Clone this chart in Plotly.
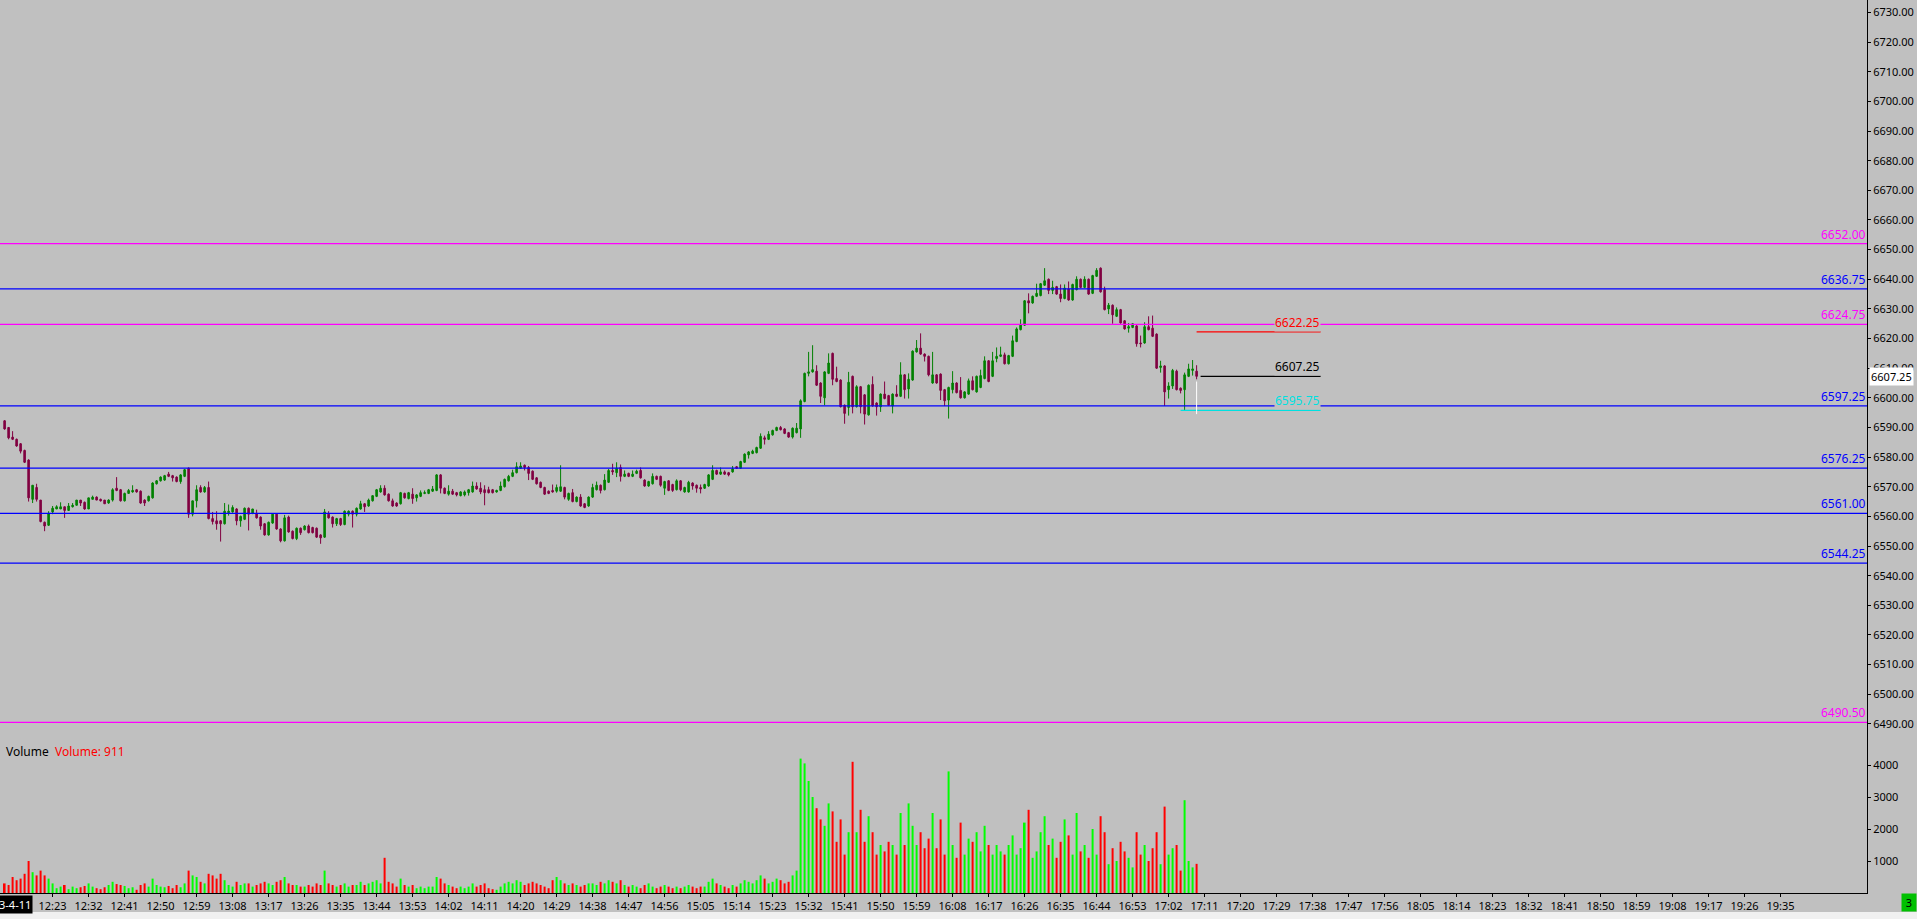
import plotly.graph_objects as go
from datetime import datetime, timedelta

SESSION_START = datetime(2023, 4, 11, 12, 11)

opens = [6592.25,6590.0,6586.75,6586.0,6584.5,6582.25,6579.0,6565.75,6569.75,6565.5,
6558.0,6557.0,6561.5,6562.5,6562.5,6563.25,6562.0,6563.25,6563.75,6565.5,
6564.75,6562.5,6565.75,6566.5,6565.75,6565.5,6564.5,6565.5,6569.5,6569.0,
6565.25,6567.75,6568.25,6569.0,6568.5,6565.5,6565.25,6566.25,6571.0,6572.0,
6572.25,6574.25,6573.75,6573.25,6571.75,6573.5,6576.25,6560.75,6565.25,6569.75,
6568.25,6569.75,6559.25,6558.5,6558.5,6557.5,6561.25,6561.5,6562.5,6558.5,
6559.0,6562.75,6561.0,6561.0,6559.75,6557.5,6553.75,6557.75,6560.75,6555.75,
6551.75,6559.75,6555.0,6552.5,6556.0,6555.5,6556.75,6556.25,6556.0,6553.75,
6553.0,6560.75,6559.75,6557.5,6559.25,6557.25,6560.75,6561.75,6560.75,6562.5,
6564.25,6563.5,6565.25,6566.75,6568.25,6569.5,6567.5,6565.25,6564.5,6564.25,
6567.75,6566.0,6567.5,6566.25,6566.75,6567.75,6567.75,6568.5,6568.75,6574.0,
6569.5,6567.5,6568.5,6568.0,6567.0,6567.25,6568.0,6568.25,6570.25,6569.5,
6569.0,6569.0,6569.0,6568.25,6568.75,6570.0,6572.0,6573.5,6574.75,6576.25,
6577.25,6576.5,6575.25,6573.0,6571.5,6569.75,6568.5,6568.75,6568.5,6568.5,
6569.75,6565.75,6568.0,6565.0,6566.5,6564.25,6563.5,6566.5,6569.0,6570.5,
6569.0,6571.5,6575.5,6574.75,6576.5,6573.5,6574.5,6573.5,6574.5,6575.5,
6572.25,6570.25,6571.0,6573.5,6573.5,6569.5,6572.0,6570.75,6569.0,6572.0,
6568.25,6568.25,6571.25,6570.5,6569.75,6569.5,6570.25,6572.5,6575.5,6574.25,
6575.0,6574.75,6575.0,6576.75,6576.25,6578.25,6580.75,6581.25,6581.5,6583.0,
6586.5,6586.0,6587.5,6589.0,6590.0,6589.5,6588.25,6586.75,6588.25,6589.5,
6598.75,6608.25,6608.75,6609.0,6605.0,6600.0,6608.25,6615.0,6606.5,6606.0,
6597.5,6596.75,6607.25,6597.0,6603.75,6601.0,6594.25,6604.5,6598.25,6597.0,
6601.25,6600.75,6597.25,6601.25,6600.5,6607.75,6603.0,6606.0,6615.5,6616.75,
6614.75,6614.0,6605.0,6607.75,6608.0,6602.75,6599.25,6602.75,6605.0,6602.5,
6600.0,6601.25,6605.75,6602.0,6603.5,6606.5,6612.5,6607.25,6613.25,6614.0,
6614.5,6611.5,6614.0,6619.0,6623.0,6624.5,6632.75,6632.0,6634.25,6634.5,
6638.0,6640.0,6636.25,6637.5,6635.0,6633.5,6636.75,6633.0,6636.5,6640.0,
6637.25,6640.0,6635.25,6641.0,6643.75,6636.5,6630.0,6631.25,6627.5,6629.75,
6626.0,6623.5,6623.75,6624.25,6618.5,6618.5,6624.0,6623.5,6621.5,6610.25,
6610.75,6602.75,6604.0,6609.0,6603.25,6602.75,6607.25,6609.25,6609.0]

highs = [6592.5,6590.0,6588.75,6586.25,6584.75,6582.5,6579.25,6570.5,6571.0,6565.5,
6558.25,6561.75,6563.5,6563.75,6564.75,6563.25,6564.5,6564.5,6565.5,6565.5,
6565.0,6566.25,6567.0,6566.75,6566.0,6565.5,6565.75,6569.5,6573.25,6569.25,
6568.0,6569.25,6570.5,6569.25,6568.75,6565.75,6567.0,6571.5,6572.25,6573.5,
6574.0,6575.0,6574.0,6573.5,6574.25,6576.0,6576.5,6565.25,6570.5,6570.5,
6570.25,6571.75,6561.5,6561.75,6558.75,6564.5,6564.0,6563.75,6562.75,6560.25,
6563.0,6563.0,6562.5,6562.25,6560.0,6557.75,6558.25,6561.0,6561.0,6556.0,
6560.5,6560.25,6555.25,6556.25,6556.25,6557.0,6557.25,6556.5,6556.25,6554.0,
6562.5,6561.75,6560.0,6559.5,6559.5,6562.0,6562.0,6562.0,6563.0,6565.25,
6564.5,6566.0,6567.0,6569.25,6570.5,6570.5,6567.75,6566.0,6564.75,6568.25,
6568.0,6568.25,6569.5,6567.5,6568.75,6568.75,6569.25,6570.25,6574.25,6574.25,
6569.75,6570.5,6569.25,6568.25,6568.5,6568.75,6569.25,6571.75,6571.5,6571.5,
6570.5,6570.0,6569.25,6569.0,6571.75,6572.75,6574.0,6575.75,6578.25,6578.25,
6577.5,6577.0,6575.5,6573.25,6571.75,6570.0,6568.75,6570.75,6570.75,6577.25,
6570.0,6568.0,6569.25,6566.75,6567.5,6564.5,6566.75,6571.0,6571.75,6570.75,
6574.25,6576.0,6577.75,6578.25,6577.5,6575.5,6574.75,6575.5,6575.75,6576.5,
6572.5,6572.0,6574.5,6573.75,6573.75,6572.0,6572.25,6571.0,6572.5,6572.25,
6570.0,6572.0,6571.5,6570.75,6570.75,6571.0,6574.25,6577.25,6575.75,6576.5,
6575.5,6575.0,6577.0,6577.0,6578.75,6581.25,6582.0,6582.5,6583.5,6588.0,
6587.25,6588.75,6589.25,6590.25,6590.5,6589.75,6588.5,6590.0,6591.5,6599.5,
6608.5,6615.5,6617.75,6611.0,6605.25,6609.0,6615.0,6615.25,6610.5,6606.25,
6597.75,6608.75,6607.5,6604.25,6604.0,6601.25,6604.5,6607.25,6598.5,6601.5,
6605.5,6601.0,6601.5,6604.25,6612.0,6608.0,6608.25,6616.0,6619.5,6621.75,
6615.0,6614.25,6615.5,6608.0,6608.25,6603.0,6603.75,6609.0,6605.25,6607.0,
6602.25,6606.5,6607.25,6607.5,6609.5,6614.0,6612.75,6615.5,6617.0,6617.25,
6615.25,6614.5,6621.0,6623.75,6626.5,6633.0,6635.25,6634.5,6638.5,6638.75,
6643.75,6640.25,6639.5,6637.75,6638.25,6638.25,6639.25,6638.5,6641.0,6640.25,
6641.0,6640.25,6641.5,6643.75,6644.0,6637.5,6632.0,6631.5,6630.5,6630.0,
6626.25,6625.25,6625.25,6624.5,6621.0,6625.5,6627.5,6627.75,6621.75,6612.5,
6611.0,6605.25,6609.75,6609.5,6603.5,6608.5,6611.5,6612.75,6611.0]

lows = [6589.25,6586.0,6585.75,6583.5,6581.25,6578.0,6565.0,6564.5,6565.0,6558.0,
6555.0,6556.75,6560.75,6562.5,6562.5,6559.5,6562.0,6563.0,6563.75,6563.5,
6562.25,6562.5,6565.75,6565.5,6565.0,6564.25,6564.25,6565.0,6568.5,6565.0,
6565.0,6567.75,6568.0,6568.0,6564.25,6563.5,6565.0,6566.0,6570.75,6571.75,
6572.0,6573.25,6571.75,6571.5,6571.0,6573.25,6559.5,6560.0,6563.0,6568.0,
6568.0,6559.0,6557.25,6555.5,6551.5,6557.25,6560.25,6561.25,6557.0,6556.5,
6558.75,6555.25,6560.75,6559.25,6555.5,6553.5,6553.5,6557.5,6555.5,6551.25,
6551.5,6554.5,6552.25,6552.0,6553.75,6555.25,6554.25,6554.25,6552.75,6550.75,
6552.75,6559.25,6556.25,6556.75,6556.75,6557.0,6560.0,6556.25,6560.0,6562.25,
6561.5,6563.25,6565.0,6566.5,6568.0,6567.0,6565.0,6563.25,6563.25,6564.0,
6566.0,6565.75,6564.25,6565.0,6566.5,6567.5,6567.5,6568.25,6568.5,6567.75,
6567.5,6567.0,6567.25,6566.75,6566.75,6566.75,6567.0,6568.0,6569.0,6567.5,
6563.75,6567.75,6567.75,6568.0,6568.5,6569.75,6571.75,6573.25,6574.5,6576.0,
6575.5,6572.25,6572.25,6570.75,6569.5,6567.25,6567.5,6568.0,6568.0,6568.25,
6565.75,6565.25,6564.75,6564.75,6563.25,6562.75,6563.25,6566.25,6568.75,6567.75,
6568.75,6571.25,6574.0,6573.25,6571.75,6573.25,6573.25,6573.25,6574.25,6572.75,
6570.0,6570.0,6570.75,6572.25,6570.0,6567.25,6568.5,6568.25,6568.75,6568.5,
6568.0,6568.0,6569.0,6568.0,6567.75,6569.25,6570.0,6572.25,6574.0,6574.0,
6574.0,6573.5,6574.75,6576.0,6576.0,6578.0,6579.5,6581.0,6581.25,6582.75,
6584.25,6585.75,6587.25,6588.75,6589.0,6587.75,6586.5,6586.25,6588.0,6586.5,
6598.5,6607.25,6608.5,6604.0,6598.25,6597.5,6608.0,6604.25,6605.25,6596.75,
6591.25,6594.0,6594.75,6596.75,6594.75,6591.0,6594.0,6597.0,6594.0,6595.25,
6599.5,6597.25,6594.75,6600.25,6600.25,6599.75,6599.75,6605.75,6615.25,6614.5,
6612.25,6607.25,6604.75,6604.75,6599.25,6597.25,6593.0,6601.5,6601.5,6599.75,
6599.75,6601.0,6602.5,6601.75,6603.25,6606.25,6605.25,6607.0,6612.0,6613.75,
6611.25,6611.25,6613.75,6618.75,6622.75,6624.25,6628.5,6631.75,6634.0,6634.25,
6637.75,6635.0,6635.0,6634.75,6632.25,6633.25,6632.75,6632.75,6636.25,6637.0,
6637.0,6634.75,6635.0,6640.75,6635.5,6629.5,6628.25,6625.0,6627.25,6625.0,
6623.0,6622.0,6623.5,6617.25,6617.0,6618.25,6622.75,6620.5,6609.75,6608.5,
6597.25,6599.75,6603.0,6602.5,6601.5,6595.75,6607.0,6607.5,6606.25]

closes = [6589.5,6586.5,6586.0,6583.75,6582.0,6578.25,6566.25,6570.5,6565.75,6558.25,
6556.75,6561.0,6562.75,6563.25,6563.25,6562.0,6563.5,6563.75,6565.5,6564.5,
6562.5,6566.25,6566.5,6565.5,6565.25,6564.25,6565.5,6569.0,6568.75,6565.25,
6567.75,6568.75,6568.75,6568.25,6564.5,6564.5,6566.75,6571.25,6572.0,6573.25,
6573.75,6573.5,6573.0,6571.75,6574.0,6575.75,6560.75,6565.25,6569.0,6568.25,
6569.75,6559.25,6558.25,6557.5,6557.5,6561.75,6561.75,6563.0,6558.5,6560.0,
6562.75,6560.75,6562.5,6559.5,6556.75,6553.75,6558.0,6560.75,6555.75,6551.75,
6559.5,6554.75,6552.5,6556.0,6554.5,6556.75,6554.5,6554.5,6553.0,6552.75,
6561.5,6559.5,6557.5,6559.25,6557.25,6561.75,6561.75,6560.75,6562.75,6564.25,
6563.25,6565.5,6567.0,6569.0,6569.5,6567.25,6565.25,6563.5,6563.5,6568.0,
6566.25,6568.0,6566.0,6567.25,6568.0,6568.0,6569.0,6569.25,6574.0,6569.5,
6567.75,6568.5,6567.5,6567.25,6568.25,6568.25,6569.0,6570.25,6569.25,6568.25,
6568.0,6568.0,6568.0,6568.75,6570.25,6572.5,6573.5,6574.75,6576.75,6577.0,
6576.5,6574.5,6572.5,6571.0,6569.75,6567.5,6567.75,6568.25,6569.75,6570.0,
6566.5,6567.75,6565.0,6566.5,6563.5,6563.0,6566.5,6569.75,6570.5,6568.75,
6572.25,6575.5,6575.0,6576.25,6573.5,6574.25,6573.5,6574.25,6575.25,6573.0,
6570.25,6571.75,6573.5,6572.5,6570.5,6571.75,6568.75,6568.75,6572.0,6569.0,
6569.75,6571.5,6570.25,6569.5,6569.25,6570.75,6574.0,6575.5,6574.25,6575.0,
6574.25,6574.0,6576.0,6576.25,6578.5,6581.0,6581.75,6582.0,6583.25,6587.0,
6586.0,6587.75,6589.0,6590.0,6589.25,6588.0,6586.75,6589.75,6589.75,6599.0,
6608.25,6608.75,6609.5,6604.25,6600.5,6608.75,6611.75,6606.25,6605.5,6597.0,
6594.75,6605.25,6597.0,6603.75,6597.0,6594.5,6604.25,6597.25,6597.0,6601.25,
6599.75,6597.5,6601.25,6600.5,6607.75,6602.75,6606.25,6615.75,6616.75,6614.75,
6614.0,6607.75,6607.75,6605.0,6602.5,6599.0,6603.5,6605.0,6601.75,6600.0,
6602.0,6605.75,6602.75,6607.25,6607.5,6612.5,6605.5,6612.5,6614.0,6614.5,
6611.5,6614.25,6619.25,6623.25,6624.5,6632.75,6632.0,6634.25,6635.25,6638.5,
6639.5,6636.25,6637.25,6635.0,6633.5,6637.0,6633.0,6638.25,6640.0,6637.25,
6640.0,6635.0,6641.25,6643.0,6635.75,6629.75,6631.25,6628.0,6629.75,6625.25,
6623.25,6624.0,6625.0,6618.25,6618.25,6624.0,6623.0,6620.75,6610.0,6610.75,
6602.0,6604.0,6609.25,6602.75,6602.5,6607.75,6609.75,6609.75,6607.25]

volumes = [300,250,500,400,450,600,1000,650,550,700,550,450,300,
150,200,250,120,200,150,180,220,300,200,150,120,180,250,350,280,250,220,150,180,
100,250,300,200,450,250,200,180,220,150,250,180,300,
700,550,500,350,300,600,550,450,600,400,
250,200,350,250,300,300,200,250,300,350,300,250,350,400,500,300,250,250,200,200,
250,200,300,250,
700,300,250,200,250,300,200,250,250,350,250,300,350,400,300,
1100,
350,300,200,450,250,200,250,150,200,150,200,200,
500,450,300,250,200,150,200,150,200,300,200,250,300,150,120,100,200,300,350,300,
400,350,250,300,350,300,250,200,150,400,500,400,300,250,300,250,200,250,300,300,
250,350,300,
400,350,300,400,250,200,250,200,150,250,300,200,150,200,250,200,150,200,150,200,
250,200,150,200,200,350,450,300,250,200,150,250,200,300,400,350,300,400,550,450,
300,350,450,400,300,350,550,
700,4200,4050,3500,3000,2650,2300,2100,2800,2550,
1600,2300,1200,1900,4100,1900,2600,1600,2400,1900,
1200,1500,1300,1600,1500,1200,2500,1500,2800,2100,
1500,1900,1400,1700,2500,1400,2300,1200,3800,1500,
1100,2200,1200,1700,1600,1900,1300,2100,1500,1200,
1500,1300,1200,1500,1800,1200,1400,2200,2600,1100,
1300,1900,2400,1500,1700,1100,1600,2300,1800,1200,
2500,1300,1500,1100,2000,1200,2400,1900,900,1400,
1000,1600,1300,1100,800,1900,1200,1500,1000,1400,
1900,900,2700,1200,1400,1500,700,2900,1000,800,911]

time_tick_labels = ["12:23","12:32","12:41","12:50","12:59","13:08","13:17","13:26","13:35",
"13:44","13:53","14:02","14:11","14:20","14:29","14:38","14:47","14:56","15:05","15:14",
"15:23","15:32","15:41","15:50","15:59","16:08","16:17","16:26","16:35","16:44","16:53",
"17:02","17:11","17:20","17:29","17:38","17:47","17:56","18:05","18:14","18:23","18:32",
"18:41","18:50","18:59","19:08","19:17","19:26","19:35"]

price_tick_values = [6490,6500,6510,6520,6530,6540,6550,6560,6570,6580,6590,6600,6610,
6620,6630,6640,6650,6660,6670,6680,6690,6700,6710,6720,6730]
volume_tick_values = [1000, 2000, 3000, 4000]

level_prices = [6652.00, 6636.75, 6624.75, 6597.25, 6576.25, 6561.00, 6544.25, 6490.50]
level_colors = ["#ff00ff", "#0000ff", "#ff00ff", "#0000ff", "#0000ff", "#0000ff", "#0000ff", "#ff00ff"]

session_marks = [6622.25, 6607.25, 6595.75]
session_mark_colors = ["#ff0000", "#000000", "#00e0e0"]
session_mark_start = ["17:09", "17:10", "17:05"]
session_mark_end = "17:40"
last_price = 6607.25
last_volume = 911

BG = "#c0c0c0"
UP = "#008000"
DOWN = "#800040"
VOL_UP = "#00ff00"
VOL_DOWN = "#ff0000"
FONT = "Noto Sans, DejaVu Sans, sans-serif"

n = min(len(opens), len(highs), len(lows), len(closes), len(volumes))
day = SESSION_START.date()
times = [SESSION_START + timedelta(minutes=i) for i in range(n)]


def at(hhmm):
    h, m = map(int, hhmm.split(":"))
    return datetime(day.year, day.month, day.day, h, m)


x_left = SESSION_START - timedelta(seconds=69)
x_right = x_left + timedelta(minutes=1867 / 4.0)

fig = go.Figure()
fig.add_trace(go.Candlestick(
    x=times, open=opens[:n], high=highs[:n], low=lows[:n], close=closes[:n],
    increasing=dict(line=dict(color=UP, width=1), fillcolor=UP),
    decreasing=dict(line=dict(color=DOWN, width=1), fillcolor=DOWN),
    whiskerwidth=0, xaxis="x", yaxis="y", showlegend=False,
))

vol_colors = [VOL_UP if c >= o else VOL_DOWN for o, c in zip(opens[:n], closes[:n])]
fig.add_trace(go.Bar(
    x=times, y=volumes[:n], width=30000,
    marker=dict(color=vol_colors, line=dict(width=0)),
    xaxis="x", yaxis="y2", showlegend=False,
))

shapes = []
annotations = []
for p, col in zip(level_prices, level_colors):
    shapes.append(dict(type="line", xref="paper", x0=0, x1=1, yref="y", y0=p, y1=p,
                       line=dict(color=col, width=1.2)))
    annotations.append(dict(xref="paper", x=1, xanchor="right", yref="y", y=p,
                            yanchor="bottom", text=f"{p:.2f}", showarrow=False,
                            font=dict(color=col, size=12, family=FONT), borderpad=0))

for p, col, st in zip(session_marks, session_mark_colors, session_mark_start):
    shapes.append(dict(type="line", xref="x", x0=at(st), x1=at(session_mark_end),
                       yref="y", y0=p, y1=p, line=dict(color=col, width=1.2)))
    annotations.append(dict(xref="x", x=at(session_mark_end), xanchor="right", yref="y", y=p,
                            yanchor="bottom", text=f"{p:.2f}", showarrow=False,
                            bgcolor=BG, font=dict(color=col, size=12, family=FONT),
                            borderpad=0))

# white range marker below last bar
shapes.append(dict(type="line", xref="x", x0=times[-1], x1=times[-1], yref="y",
                   y0=lows[n - 1] - 0.75, y1=session_marks[2] - 1.25,
                   line=dict(color="#ffffff", width=1)))

# last price tag
annotations.append(dict(xref="paper", x=1, xanchor="left", xshift=2, yref="y", y=last_price,
                        text=f"{last_price:.2f}", showarrow=False, bgcolor="#ffffff",
                        font=dict(color="#000000", size=11, family=FONT), borderpad=1))

# volume title
annotations.append(dict(xref="paper", x=0, xanchor="left", xshift=4, yref="paper",
                        y=(893 - 751) / 893, yanchor="middle", showarrow=False,
                        text=f"Volume  <span style='color:#ff0000'>Volume: {last_volume}</span>",
                        font=dict(color="#000000", size=12, family=FONT)))

# date stamp at left of time axis
annotations.append(dict(xref="paper", x=0, xanchor="right", xshift=33, yref="paper",
                        y=(893 - 905) / 893, yanchor="middle", showarrow=False,
                        text="3-4-11", bgcolor="#000000",
                        font=dict(color="#ffffff", size=11, family=FONT), borderpad=1))

# green box bottom-right
annotations.append(dict(xref="paper", x=1, xanchor="left", xshift=34, yref="paper",
                        y=(893 - 902.5) / 893, yanchor="middle", showarrow=False,
                        text="3", bgcolor="#00c000", width=12,
                        font=dict(color="#000000", size=11, family=FONT), borderpad=1))

# scrollbar strip
shapes.append(dict(type="rect", xref="paper", x0=0, x1=1917 / 1867, yref="paper",
                   y0=(893 - 920) / 893, y1=(893 - 912) / 893,
                   fillcolor="#f0f0f0", line=dict(width=0), layer="above"))

fig.update_layout(
    width=1917, height=919,
    margin=dict(l=0, r=50, t=0, b=26),
    paper_bgcolor=BG, plot_bgcolor=BG,
    boxgap=0.45,
    showlegend=False,
    shapes=shapes, annotations=annotations,
    font=dict(family=FONT, color="#000000", size=11),
    xaxis=dict(
        type="date", range=[x_left, x_right], anchor="y2", domain=[0, 1],
        tickvals=[at(t) for t in time_tick_labels], ticktext=time_tick_labels,
        ticks="outside", ticklen=3, tickcolor="#000000",
        showline=True, linecolor="#000000", linewidth=1,
        showgrid=False, zeroline=False, rangeslider=dict(visible=False),
        tickfont=dict(size=11, color="#000000", family=FONT),
    ),
    yaxis=dict(
        domain=[0.1758, 1], anchor="x", side="right",
        range=[6485.9, 6734.22],
        tickvals=price_tick_values, ticktext=[f"{v:.2f}" for v in price_tick_values],
        ticks="outside", ticklen=3, tickcolor="#000000",
        showline=True, linecolor="#000000", linewidth=1,
        showgrid=False, zeroline=False,
        tickfont=dict(size=11, color="#000000", family=FONT),
    ),
    yaxis2=dict(
        domain=[0, 0.1758], anchor="x", side="right",
        range=[0, 4906],
        tickvals=volume_tick_values, ticktext=[str(v) for v in volume_tick_values],
        ticks="outside", ticklen=3, tickcolor="#000000",
        showline=True, linecolor="#000000", linewidth=1,
        showgrid=False, zeroline=False,
        tickfont=dict(size=11, color="#000000", family=FONT),
    ),
)

fig.write_html("out.html", config=dict(displayModeBar=False),
               post_script="document.body.style.margin='0px';document.body.style.overflow='hidden';")
